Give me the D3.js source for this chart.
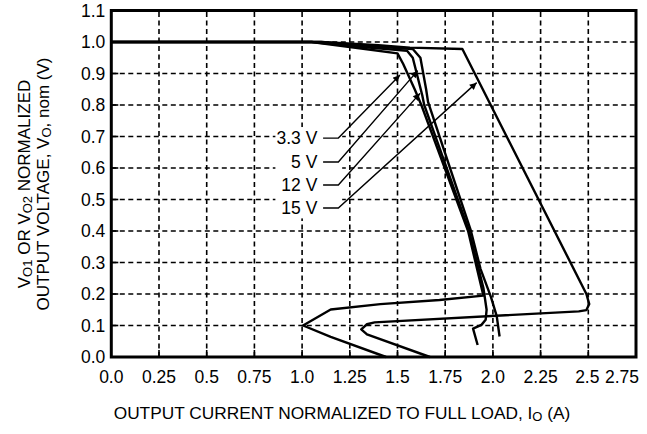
<!DOCTYPE html>
<html>
<head>
<meta charset="utf-8">
<script src="https://cdn.jsdelivr.net/npm/d3@7"></script>
<style>
  body { margin: 0; background: #fff; }
  svg { display: block; font-family: "Liberation Sans", Arial, Helvetica, sans-serif; }
</style>
</head>
<body>
<div id="chart"></div>
<script>
// tick values and labels
const xTicks = [0, 0.25, 0.5, 0.75, 1.0, 1.25, 1.5, 1.75, 2.0, 2.25, 2.5, 2.75];
const xTickLabels = ["0.0", "0.25", "0.5", "0.75", "1.0", "1.25", "1.5", "1.75", "2.0", "2.25", "2.5", "2.75"];
const yTicks = [0, 0.1, 0.2, 0.3, 0.4, 0.5, 0.6, 0.7, 0.8, 0.9, 1.0, 1.1];
const yTickLabels = ["0.0", "0.1", "0.2", "0.3", "0.4", "0.5", "0.6", "0.7", "0.8", "0.9", "1.0", "1.1"];

// curves: [current, voltage]
const curve3v3 = [[0, 1.0], [1.05, 1.0], [1.3, 0.98], [1.50, 0.964], [1.53, 0.93], [1.59, 0.85], [1.625, 0.80],
  [1.87, 0.40], [1.95, 0.195], [1.72, 0.181], [1.41, 0.168], [1.15, 0.151], [1.005, 0.10],
  [1.15, 0.064], [1.44, 0.0]];
const curve5 = [[0, 1.0], [1.05, 1.0], [1.35, 0.982], [1.55, 0.972], [1.58, 0.95], [1.63, 0.83], [1.64, 0.80],
  [1.875, 0.40], [1.95, 0.22], [1.967, 0.15], [1.962, 0.118], [1.94, 0.102], [1.896, 0.09],
  [1.92, 0.038]];
const curve12 = [[0, 1.0], [1.1, 1.0], [1.4, 0.985], [1.58, 0.978], [1.62, 0.95], [1.65, 0.85], [1.66, 0.81],
  [1.885, 0.40], [1.935, 0.28], [1.99, 0.19], [2.02, 0.13], [2.035, 0.065]];
const curve15 = [[0, 1.0], [1.1, 1.0], [1.4, 0.99], [1.565, 0.982], [1.84, 0.978], [2.49, 0.2], [2.505, 0.168],
  [2.49, 0.149], [2.45, 0.145], [1.38, 0.11], [1.34, 0.104], [1.31, 0.088], [1.34, 0.072], [1.67, 0.0]];
const series = [curve3v3, curve5, curve12, curve15];

// callouts: label, label row (V), arrow target [I, V]
const calloutLabels = ["3.3 V", "5 V", "12 V", "15 V"];
const calloutRows = [0.695, 0.619, 0.546, 0.473];
const calloutTargets = [[1.513, 0.895], [1.606, 0.909], [1.618, 0.837], [1.915, 0.871]];

const width = 647, height = 434;
const margin = { top: 10.5, right: 11, bottom: 77, left: 111.3 };

const svg = d3.select("#chart").append("svg")
  .attr("width", width)
  .attr("height", height);

svg.append("rect").attr("width", width).attr("height", height).attr("fill", "#fff");

const x = d3.scaleLinear().domain([0, 2.75]).range([margin.left, width - margin.right]);
const y = d3.scaleLinear().domain([0, 1.1]).range([height - margin.bottom, margin.top]);

// grid
const grid = svg.append("g")
  .attr("stroke", "#000")
  .attr("stroke-width", 1.6)
  .attr("stroke-dasharray", "5,3.5");

grid.selectAll("line.v")
  .data(xTicks.slice(1, -1))
  .join("line")
  .attr("x1", d => x(d)).attr("x2", d => x(d))
  .attr("y1", y(0)).attr("y2", y(1.1));

grid.selectAll("line.h")
  .data(yTicks.slice(1, -1))
  .join("line")
  .attr("x1", x(0)).attr("x2", x(2.75))
  .attr("y1", d => y(d)).attr("y2", d => y(d));

// white box behind callout labels
svg.append("rect")
  .attr("x", x(0.86)).attr("y", y(0.73))
  .attr("width", x(1.21) - x(0.86)).attr("height", y(0.44) - y(0.73))
  .attr("fill", "#fff");

// ticks
const ticks = svg.append("g").attr("stroke", "#000").attr("stroke-width", 1.6);
ticks.selectAll("line.xt")
  .data(xTicks.slice(1, -1))
  .join("line")
  .attr("x1", d => x(d)).attr("x2", d => x(d))
  .attr("y1", y(0)).attr("y2", y(0) - 7);
ticks.selectAll("line.yt")
  .data(yTicks.slice(1, -1))
  .join("line")
  .attr("x1", x(0)).attr("x2", x(0) + 7)
  .attr("y1", d => y(d)).attr("y2", d => y(d));

// curves
const line = d3.line().x(d => x(d[0])).y(d => y(d[1]));

svg.append("g")
  .selectAll("path")
  .data(series)
  .join("path")
  .attr("d", line)
  .attr("fill", "none")
  .attr("stroke", "#000")
  .attr("stroke-width", 2.4)
  .attr("stroke-linejoin", "round");

// frame
svg.append("rect")
  .attr("x", x(0)).attr("y", y(1.1))
  .attr("width", x(2.75) - x(0)).attr("height", y(0) - y(1.1))
  .attr("fill", "none")
  .attr("stroke", "#000")
  .attr("stroke-width", 3);

// callouts
svg.append("defs").append("marker")
  .attr("id", "arrow")
  .attr("viewBox", "0 0 10 10")
  .attr("refX", 10).attr("refY", 5)
  .attr("markerWidth", 10).attr("markerHeight", 7)
  .attr("markerUnits", "userSpaceOnUse")
  .attr("orient", "auto")
  .append("path")
  .attr("d", "M0,0L10,5L0,10z")
  .attr("fill", "#000");

const callouts = svg.append("g");
calloutLabels.forEach((label, i) => {
  const row = calloutRows[i];
  const target = calloutTargets[i];
  callouts.append("text")
    .attr("x", x(1.08))
    .attr("y", y(row))
    .attr("dy", "0.35em")
    .attr("text-anchor", "end")
    .attr("font-size", 17.5)
    .text(label);
  callouts.append("polyline")
    .attr("points", [[x(1.11), y(row)], [x(1.19), y(row)], [x(target[0]), y(target[1])]].map(p => p.join(",")).join(" "))
    .attr("fill", "none")
    .attr("stroke", "#000")
    .attr("stroke-width", 1.4)
    .attr("marker-end", "url(#arrow)");
});

// tick labels
svg.append("g")
  .selectAll("text")
  .data(yTicks)
  .join("text")
  .attr("x", x(0) - 6)
  .attr("y", d => y(d))
  .attr("dy", "0.36em")
  .attr("text-anchor", "end")
  .attr("font-size", 17.5)
  .text((d, i) => yTickLabels[i]);

// last two labels are squeezed against the right edge, as in the original
svg.append("g")
  .selectAll("text")
  .data(xTicks)
  .join("text")
  .attr("x", (d, i) => i === xTicks.length - 1 ? x(d) + 3 : i === xTicks.length - 2 ? x(d) - 1 : x(d))
  .attr("y", y(0) + 26)
  .attr("text-anchor", (d, i) => i === xTicks.length - 1 ? "end" : "middle")
  .attr("font-size", 17.5)
  .text((d, i) => xTickLabels[i]);

// axis titles
const xTitle = svg.append("text")
  .attr("x", 342)
  .attr("y", 419)
  .attr("text-anchor", "middle")
  .attr("font-size", 17.3);
xTitle.append("tspan").text("OUTPUT CURRENT NORMALIZED TO FULL LOAD, I");
xTitle.append("tspan").attr("font-size", 13).attr("dy", 2).text("O");
xTitle.append("tspan").attr("dy", -2).text(" (A)");

const yTitle = svg.append("g").attr("transform", "translate(30,184) rotate(-90)");
const l1 = yTitle.append("text").attr("text-anchor", "middle").attr("font-size", 17);
l1.append("tspan").text("V");
l1.append("tspan").attr("font-size", 13).attr("dy", 2).text("O1");
l1.append("tspan").attr("dy", -2).text(" OR V");
l1.append("tspan").attr("font-size", 13).attr("dy", 2).text("O2");
l1.append("tspan").attr("dy", -2).text(" NORMALIZED");

const l2 = yTitle.append("text").attr("y", 19).attr("text-anchor", "middle").attr("font-size", 17);
l2.append("tspan").text("OUTPUT VOLTAGE, V");
l2.append("tspan").attr("font-size", 13).attr("dy", 2).text("O");
l2.append("tspan").attr("dy", -2).text(", nom (V)");
</script>
</body>
</html>
